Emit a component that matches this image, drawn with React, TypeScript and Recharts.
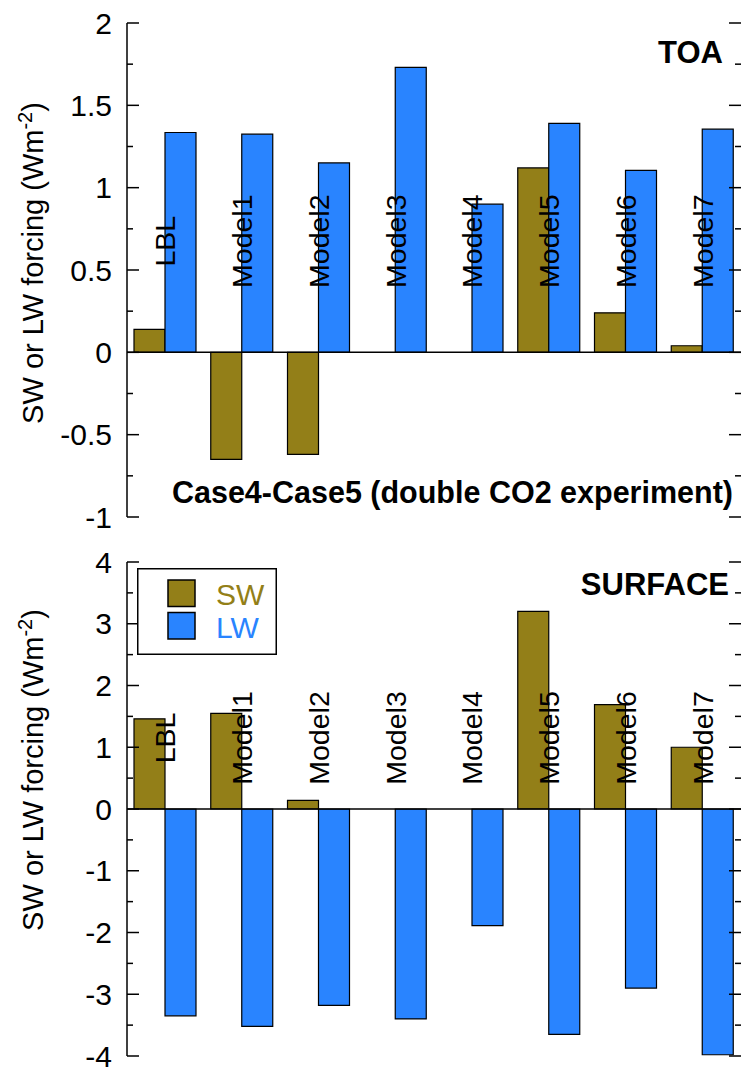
import React from 'react';
import { BarChart, Bar, XAxis, YAxis, ReferenceLine, ReferenceDot, Legend } from 'recharts';

// categories and values
const categories = ['LBL', 'Model1', 'Model2', 'Model3', 'Model4', 'Model5', 'Model6', 'Model7'];
const toaSW = [0.14, -0.65, -0.62, 0, 0, 1.12, 0.24, 0.04];
const toaLW = [1.335, 1.325, 1.15, 1.73, 0.9, 1.39, 1.105, 1.355];
const surfaceSW = [1.46, 1.55, 0.14, 0, 0, 3.2, 1.69, 1.0];
const surfaceLW = [-3.35, -3.52, -3.18, -3.4, -1.89, -3.65, -2.9, -3.98];

const toaTicks = [-1, -0.75, -0.5, -0.25, 0, 0.25, 0.5, 0.75, 1, 1.25, 1.5, 1.75, 2];
const surfaceTicks = [-4, -3.5, -3, -2.5, -2, -1.5, -1, -0.5, 0, 0.5, 1, 1.5, 2, 2.5, 3, 3.5, 4];
const legendOrder = ['SW', 'LW'];

const SW_COLOR = '#937F18';
const LW_COLOR = '#2984FF';
const FONT = '"Liberation Sans", Arial, Helvetica, sans-serif';
const WIDTH = 742;
const PLOT_LEFT = 127;
const PLOT_RIGHT = 741;

function AxisTick(props: any) {
  const { y, payload, majorStep } = props;
  const v = payload.value;
  const r = v / majorStep;
  const major = Math.abs(r - Math.round(r)) < 1e-6;
  const len = major ? 12 : 6;
  return (
    <g>
      <line x1={PLOT_LEFT} x2={PLOT_LEFT + len} y1={y} y2={y} stroke="#000" strokeWidth={1.5} />
      <line x1={PLOT_RIGHT - len} x2={PLOT_RIGHT} y1={y} y2={y} stroke="#000" strokeWidth={1.5} />
      {major && (
        <text x={112} y={y} dy="0.35em" textAnchor="end" fontSize={30} fontFamily={FONT} fill="#000">
          {String(v)}
        </text>
      )}
    </g>
  );
}

function CategoryLabel(props: any) {
  const { viewBox, text } = props;
  const cx = viewBox.x + (viewBox.width || 0) / 2;
  const cy = viewBox.y + (viewBox.height || 0) / 2;
  return (
    <text
      x={cx}
      y={cy}
      dy="0.35em"
      textAnchor="middle"
      transform={`rotate(-90, ${cx}, ${cy})`}
      fontSize={28.5}
      fontFamily={FONT}
      fill="#000"
    >
      {text}
    </text>
  );
}

function renderLegend(props: any) {
  const items = [...(props.payload || [])].sort(
    (a: any, b: any) => legendOrder.indexOf(a.value) - legendOrder.indexOf(b.value)
  );
  return (
    <svg width={140} height={87} style={{ display: 'block' }}>
      <rect x={0.75} y={0.75} width={138.5} height={85.5} fill="#fff" stroke="#000" strokeWidth={1.5} />
      {items.map((entry: any, i: number) => (
        <g key={entry.value}>
          <rect x={31} y={12 + i * 32.5} width={27} height={26.5} fill={entry.color} stroke="#000" strokeWidth={1.5} />
          <text x={79} y={37 + i * 33} fontSize={30} fontFamily={FONT} fill={entry.color}>
            {entry.value}
          </text>
        </g>
      ))}
    </svg>
  );
}

interface PanelProps {
  sw: number[];
  lw: number[];
  ticks: number[];
  majorStep: number;
  labelY: number;
  height: number;
  marginTop: number;
  marginBottom: number;
  tag: string;
  tagX: number;
  tagY: number;
  titleY: number;
  note?: string;
  legend?: boolean;
}

function Panel({ sw, lw, ticks, majorStep, labelY, height, marginTop, marginBottom, tag, tagX, tagY, titleY, note, legend }: PanelProps) {
  const data = categories.map((name, i) => ({ name, sw: sw[i], lw: lw[i] }));
  const domain = [ticks[0], ticks[ticks.length - 1]];
  const axisLine = { stroke: '#000', strokeWidth: 1.5 };
  return (
    <div style={{ position: 'relative', width: WIDTH, height }}>
      <BarChart
        width={WIDTH}
        height={height}
        data={data}
        barGap={0}
        margin={{ top: marginTop, right: 1, bottom: marginBottom, left: 0 }}
      >
        <XAxis dataKey="name" tick={false} tickLine={false} axisLine={axisLine} height={0} />
        <XAxis xAxisId="top" orientation="top" dataKey="name" tick={false} tickLine={false} axisLine={axisLine} height={0} />
        <YAxis
          width={PLOT_LEFT}
          domain={domain}
          ticks={ticks}
          interval={0}
          type="number"
          tickLine={false}
          axisLine={axisLine}
          tick={(p: any) => <AxisTick {...p} majorStep={majorStep} />}
        />
        <YAxis yAxisId="right" orientation="right" width={0} domain={domain} type="number" tick={false} tickLine={false} axisLine={axisLine} />
        <ReferenceLine y={0} stroke="#000" strokeWidth={1.5} />
        <Bar dataKey="sw" name="SW" fill={SW_COLOR} stroke="#000" strokeWidth={1.2} barSize={31} isAnimationActive={false} />
        <Bar dataKey="lw" name="LW" fill={LW_COLOR} stroke="#000" strokeWidth={1.2} barSize={31} isAnimationActive={false} />
        {categories.map((c) => (
          <ReferenceDot
            key={c}
            x={c}
            y={labelY}
            r={0}
            fill="none"
            stroke="none"
            label={(p: any) => <CategoryLabel {...p} text={c} />}
          />
        ))}
        {legend && (
          <Legend
            layout="horizontal"
            verticalAlign="middle"
            align="center"
            content={renderLegend}
            wrapperStyle={{ left: 137, top: 28, width: 140, height: 87 }}
          />
        )}
      </BarChart>
      <svg width={WIDTH} height={height} style={{ position: 'absolute', left: 0, top: 0, pointerEvents: 'none' }}>
        <text
          x={43}
          y={titleY}
          textAnchor="middle"
          transform={`rotate(-90, 43, ${titleY})`}
          fontSize={29}
          fontFamily={FONT}
          fill="#000"
        >
          SW or LW forcing (Wm
          <tspan dy={-11} fontSize={20}>-2</tspan>
          <tspan dy={11}>)</tspan>
        </text>
        <text x={tagX} y={tagY} textAnchor="end" fontSize={31} fontWeight="bold" fontFamily={FONT} fill="#000">
          {tag}
        </text>
        {note && (
          <text x={733} y={503} textAnchor="end" fontSize={30.5} fontWeight="bold" fontFamily={FONT} fill="#000">
            {note}
          </text>
        )}
      </svg>
    </div>
  );
}

export default function App() {
  return (
    <div style={{ position: 'absolute', left: 0, top: 0, width: WIDTH, height: 1069, background: '#fff' }}>
      <Panel
        sw={toaSW}
        lw={toaLW}
        ticks={toaTicks}
        majorStep={0.5}
        labelY={0.675}
        height={540}
        marginTop={23}
        marginBottom={23}
        tag="TOA"
        tagX={723}
        tagY={63}
        titleY={263}
        note="Case4-Case5 (double CO2 experiment)"
      />
      <Panel
        sw={surfaceSW}
        lw={surfaceLW}
        ticks={surfaceTicks}
        majorStep={1}
        labelY={1.15}
        height={529}
        marginTop={22}
        marginBottom={13}
        tag="SURFACE"
        tagX={729}
        tagY={55}
        titleY={230}
        legend
      />
    </div>
  );
}
